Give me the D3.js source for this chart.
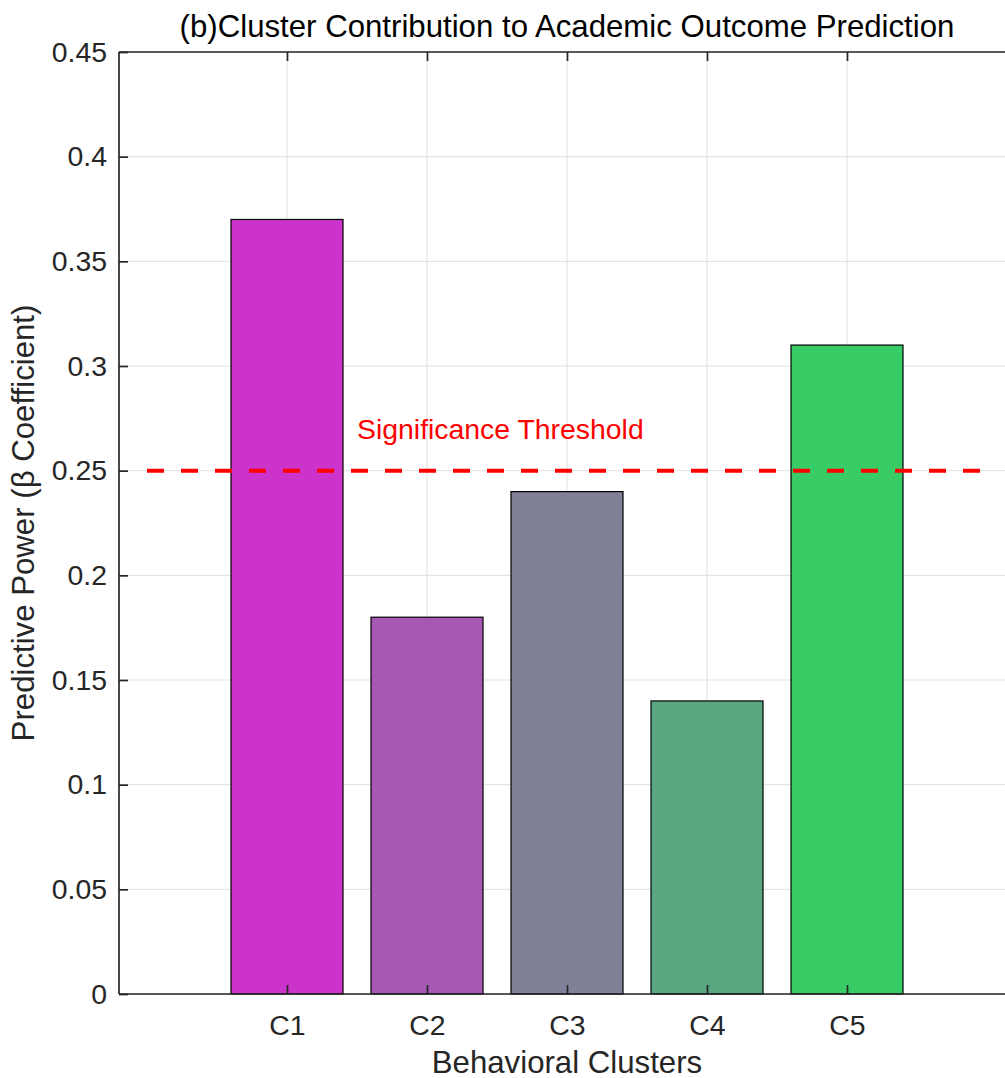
<!DOCTYPE html>
<html>
<head>
<meta charset="utf-8">
<script src="https://cdn.jsdelivr.net/npm/d3@7"></script>
<style>
  body { margin: 0; background: #fff; }
  svg { display: block; font-family: "Liberation Sans", Arial, sans-serif; }
</style>
</head>
<body>
<div id="chart"></div>
<script>
const clusters = ["C1", "C2", "C3", "C4", "C5"];
const betaValues = [0.37, 0.18, 0.24, 0.14, 0.31];
const barColors = ["#cb33cb", "#a659b2", "#808099", "#5aa680", "#38cc66"];
const yTicks = [0, 0.05, 0.1, 0.15, 0.2, 0.25, 0.3, 0.35, 0.4, 0.45];
const threshold = 0.25;

const width = 1005, height = 1078;
const mLeft = 119, mRight = 1015, mTop = 52, mBottom = 994;

const svg = d3.select("#chart").append("svg")
    .attr("width", width)
    .attr("height", height);

// positions 1..5 like matlab bar()
const x = d3.scaleLinear().domain([-0.2, 6.2]).range([mLeft, mRight]);
const y = d3.scaleLinear().domain([0, 0.45]).range([mBottom, mTop]);
const barW = (x(1) - x(0)) * 0.8;

const plot = svg.append("g");

// grid
plot.selectAll("line.hgrid")
    .data(yTicks)
    .enter().append("line")
    .attr("x1", mLeft).attr("x2", mRight)
    .attr("y1", d => y(d)).attr("y2", d => y(d))
    .attr("stroke", "#dfdfdf").attr("stroke-width", 1);

plot.selectAll("line.vgrid")
    .data(clusters)
    .enter().append("line")
    .attr("x1", (d, i) => x(i + 1)).attr("x2", (d, i) => x(i + 1))
    .attr("y1", mTop).attr("y2", mBottom)
    .attr("stroke", "#dfdfdf").attr("stroke-width", 1);

// bars
plot.selectAll("rect.bar")
    .data(betaValues)
    .enter().append("rect")
    .attr("x", (d, i) => x(i + 1) - barW / 2)
    .attr("y", d => y(d))
    .attr("width", barW)
    .attr("height", d => mBottom - y(d))
    .attr("fill", (d, i) => barColors[i])
    .attr("stroke", "#000")
    .attr("stroke-width", 1.2);

// threshold line
plot.append("line")
    .attr("x1", x(0)).attr("x2", x(6))
    .attr("y1", y(threshold)).attr("y2", y(threshold))
    .attr("stroke", "#ff0000")
    .attr("stroke-width", 4)
    .attr("stroke-dasharray", "17 17");

plot.append("text")
    .attr("x", x(1.5))
    .attr("y", y(0.27))
    .attr("dominant-baseline", "central")
    .attr("font-size", 28.4)
    .attr("fill", "#ff0000")
    .text("Significance Threshold");

// axes
const axisColor = "#262626";
const yAxis = svg.append("g")
    .attr("transform", `translate(${mLeft},0)`)
    .call(d3.axisLeft(y).tickValues(yTicks).tickFormat(d => d3.format("~g")(d)).tickSize(-9).tickPadding(12));
const xAxis = svg.append("g")
    .attr("transform", `translate(0,${mBottom})`)
    .call(d3.axisBottom(x).tickValues([1, 2, 3, 4, 5]).tickFormat((d, i) => clusters[i]).tickSize(-9).tickPadding(21));
const xTop = svg.append("g")
    .attr("transform", `translate(0,${mTop})`)
    .call(d3.axisTop(x).tickValues([1, 2, 3, 4, 5]).tickFormat("").tickSize(-9));

[yAxis, xAxis, xTop].forEach(g => {
  g.select(".domain").attr("stroke", axisColor).attr("stroke-width", 1.7);
  g.selectAll(".tick line").attr("stroke", axisColor).attr("stroke-width", 1.7);
  g.selectAll(".tick text").attr("fill", axisColor).attr("font-size", 28.4)
    .attr("font-family", "'Liberation Sans', Arial, sans-serif");
});
xTop.select(".domain").attr("d", `M${mLeft},0H${mRight}`);
xAxis.select(".domain").attr("d", `M${mLeft},0H${mRight}`);
yAxis.select(".domain").attr("d", `M0,${mTop}V${mBottom}`);

// labels
svg.append("text")
    .attr("x", (mLeft + mRight) / 2).attr("y", 37)
    .attr("text-anchor", "middle")
    .attr("font-size", 31.2)
    .attr("fill", "#000")
    .text("(b)Cluster Contribution to Academic Outcome Prediction");

svg.append("text")
    .attr("x", (mLeft + mRight) / 2).attr("y", 1073)
    .attr("text-anchor", "middle")
    .attr("font-size", 31.2)
    .attr("fill", axisColor)
    .text("Behavioral Clusters");

svg.append("text")
    .attr("transform", `translate(34,${(mTop + mBottom) / 2}) rotate(-90)`)
    .attr("text-anchor", "middle")
    .attr("font-size", 31.2)
    .attr("fill", axisColor)
    .text("Predictive Power (β Coefficient)");
</script>
</body>
</html>
